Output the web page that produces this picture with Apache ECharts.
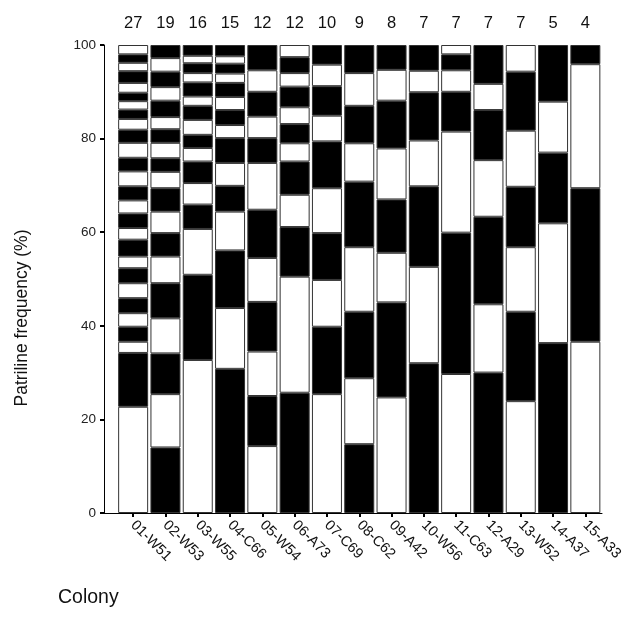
<!DOCTYPE html>
<html><head><meta charset="utf-8">
<script src="https://cdn.jsdelivr.net/npm/echarts@6/dist/echarts.min.js"></script>
<style>html,body{margin:0;padding:0;background:#fff}#c{width:642px;height:635px}</style>
</head><body><div id="c"></div>
<script>
// ---- data ----
const colonies = ['01-W51','02-W53','03-W55','04-C66','05-W54','06-A73','07-C69','08-C62','09-A42','10-W56','11-C63','12-A29','13-W52','14-A37','15-A33'];
const patrilineCounts = [27,19,16,15,12,12,10,9,8,7,7,7,7,5,4];
const yTickValues = [0,20,40,60,80,100];
// patriline frequencies (%) per colony, from bottom segment to top segment
const c01 = [22.7,11.5,2.4,3.2,2.9,3.2,3.2,3.2,2.5,3.6,2.5,3.1,2.8,3.0,3.2,2.9,3.2,2.8,2.3,2.0,1.8,1.8,2.1,2.5,1.8,1.8,2.0];
const c02 = [14.0,11.4,8.7,7.5,7.5,5.7,5.0,4.6,5.0,3.5,2.9,3.3,2.9,2.6,3.5,2.9,3.3,2.9,2.8];
const c03 = [32.7,18.2,9.8,5.2,4.6,4.6,2.9,2.8,3.2,3.0,2.0,3.0,2.0,2.1,1.6,2.3];
const c04 = [30.8,13.0,12.3,8.3,5.5,4.9,5.3,2.8,3.2,2.8,3.0,2.0,2.1,1.6,2.4];
const c05 = [14.3,10.7,9.5,10.6,9.4,10.3,10.0,5.3,4.6,5.3,4.6,5.4];
const c06 = [25.7,24.8,10.6,6.9,7.1,3.9,4.1,3.6,4.4,2.9,3.4,2.6];
const c07 = [25.4,14.4,10.0,10.0,9.6,10.0,5.5,6.3,4.6,4.2];
const c08 = [14.7,14.1,14.2,13.8,14.0,8.2,8.0,7.0,6.0];
const c09 = [24.7,20.3,10.6,11.4,10.9,10.2,6.6,5.3];
const c10 = [32.0,20.6,17.2,9.8,10.3,4.6,5.5];
const c11 = [29.7,30.2,21.6,8.5,4.6,3.4,2.0];
const c12 = [30.0,14.6,18.7,12.1,10.7,5.6,8.3];
const c13 = [23.9,19.1,13.8,12.9,12.0,12.6,5.7];
const c14 = [36.3,25.6,15.1,10.9,12.1];
const c15 = [36.6,32.8,26.5,4.1];

const segs = [c01,c02,c03,c04,c05,c06,c07,c08,c09,c10,c11,c12,c13,c14,c15];
const maxSegs = Math.max(...segs.map(s => s.length));
const FONT = 'Liberation Sans, Arial, sans-serif';

const series = [];
for (let i = 0; i < maxSegs; i++) {
  series.push({
    type: 'bar', stack: 'p', xAxisIndex: 0, yAxisIndex: 0,
    barWidth: 30, silent: true,
    data: segs.map((s, j) => i < s.length
      ? { value: s[i], itemStyle: { color: ((i + j) % 2 === 0) ? '#ffffff' : '#000000' } }
      : '-'),
    itemStyle: { borderColor: '#333333', borderWidth: 1 }
  });
}

const chart = echarts.init(document.getElementById('c'), null, { renderer: 'canvas' });
chart.setOption({
  animation: false,
  backgroundColor: '#ffffff',
  grid: [
    { left: 117, width: 484.5, top: 45, height: 468 },
    { left: 104, right: 40, top: 45, height: 468 }
  ],
  xAxis: [
    { type: 'category', gridIndex: 0, data: colonies, position: 'bottom',
      axisLine: { show: false },
      axisTick: { show: true, alignWithLabel: true, length: 4, lineStyle: { color: '#000', width: 2 } },
      axisLabel: { rotate: -45, fontSize: 14.5, color: '#111', margin: 10, fontFamily: FONT, interval: 0 } },
    { type: 'category', gridIndex: 0, data: patrilineCounts.map(String), position: 'top',
      axisLine: { show: false }, axisTick: { show: false },
      axisLabel: { fontSize: 16.5, color: '#111', margin: 13, fontFamily: FONT, interval: 0 } },
    { type: 'value', gridIndex: 1, min: 0, max: 1, position: 'bottom',
      axisLine: { show: true, lineStyle: { color: '#000', width: 1 } },
      axisTick: { show: false }, axisLabel: { show: false }, splitLine: { show: false } }
  ],
  yAxis: [
    { type: 'value', gridIndex: 0, min: 0, max: 100, interval: 20, show: false, splitLine: { show: false } },
    { type: 'value', gridIndex: 1, min: 0, max: 100, interval: 20,
      axisLine: { show: true, lineStyle: { color: '#000', width: 1 } },
      axisTick: { show: true, length: 4, lineStyle: { color: '#000', width: 2 } },
      axisLabel: { fontSize: 13.5, color: '#222', margin: 8, fontFamily: FONT,
        customValues: yTickValues },
      splitLine: { show: false } }
  ],
  graphic: [
    { type: 'text', x: 22, y: 318, rotation: Math.PI / 2,
      style: { text: 'Patriline frequency (%)', fontSize: 17.5, fill: '#111', fontFamily: FONT,
        textAlign: 'center', textVerticalAlign: 'middle' } },
    { type: 'text', x: 58, y: 598,
      style: { text: 'Colony', fontSize: 19.5, fill: '#111', fontFamily: FONT,
        textAlign: 'left', textVerticalAlign: 'middle' } }
  ],
  series: series
});
</script>
</body></html>
